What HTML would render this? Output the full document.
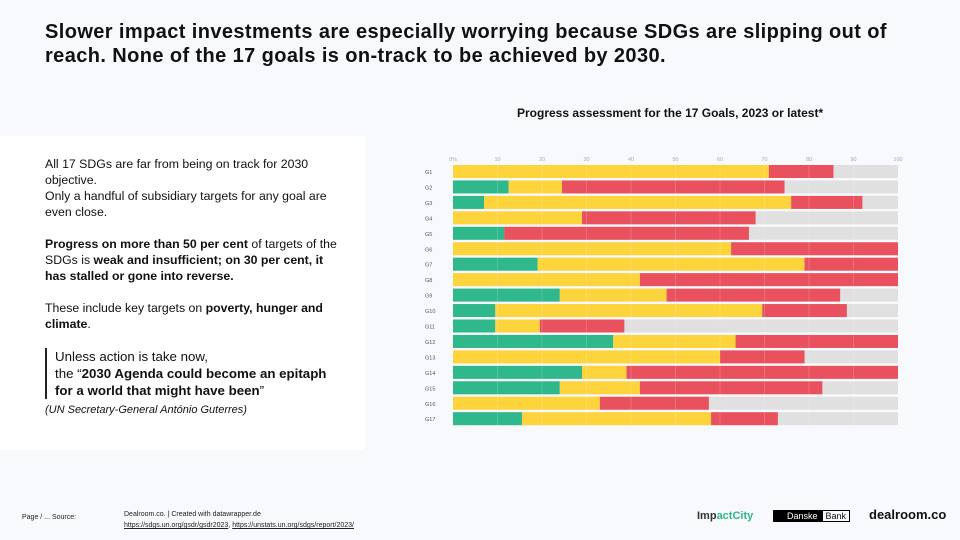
<!DOCTYPE html>
<html><head><meta charset="utf-8">
<style>
body{margin:0;width:960px;height:540px;background:#f8f9fc;font-family:"Liberation Sans",sans-serif;position:relative;overflow:hidden;color:#111}
.title{position:absolute;left:45px;top:20px;font-size:20px;font-weight:bold;line-height:24px;letter-spacing:0.4px;width:900px;white-space:nowrap}
.panel{position:absolute;left:0;top:136px;width:365px;height:314px;background:#fff}
.txt{position:absolute;left:45px;top:156px;width:300px;font-size:12.3px;line-height:16px}
.txt p{margin:0 0 16px 0}
.quote{border-left:2px solid #222;padding-left:8px;font-size:13.3px;line-height:17px;margin-bottom:3px!important}
.ctitle{position:absolute;left:517px;top:106px;font-size:12px;font-weight:bold}
.foot{position:absolute;font-size:7px;color:#222}
</style></head><body>
<div class="title">Slower impact investments are especially worrying because SDGs are slipping out of<br>reach. None of the 17 goals is on-track to be achieved by 2030.</div>
<div class="panel"></div>
<div class="txt">
<p>All 17 SDGs are far from being on track for 2030 objective.<br>Only a handful of subsidiary targets for any goal are even close.</p>
<p><b>Progress on more than 50 per cent</b> of targets of the SDGs is <b>weak and insufficient; on 30 per cent, it has stalled or gone into reverse.</b></p>
<p>These include key targets on <b>poverty, hunger and climate</b>.</p>
<p class="quote">Unless action is take now,<br>the “<b>2030 Agenda could become an epitaph for a world that might have been</b>”</p>
<p style="font-style:italic;font-size:11px">(UN Secretary-General António Guterres)</p>
</div>
<div class="ctitle">Progress assessment for the 17 Goals, 2023 or latest*</div>
<svg id="chart" width="960" height="540" style="position:absolute;left:0;top:0"></svg>
<div class="foot" style="left:22px;top:514px">Page / ... Source:</div>
<div class="foot" style="left:124px;top:509px;line-height:11px">Dealroom.co. | Created with datawrapper.de<br><u>https://sdgs.un.org/gsdr/gsdr2023</u>, <u>https://unstats.un.org/sdgs/report/2023/</u></div>
<div style="position:absolute;left:697px;top:510px;font-size:11px;font-weight:bold;color:#333">Imp<span style="color:#2fb88c">actCity</span></div>
<div style="position:absolute;left:773px;top:510px;font-size:9px;display:flex"><span style="background:#000;color:#fff;padding:1px 4px 1px 14px">Danske</span><span style="border:1px solid #000;padding:0 3px">Bank</span></div>
<div style="position:absolute;left:869px;top:507px;font-size:13px;font-weight:bold">dealroom.co</div>
<script>
const goals=["G1","G2","G3","G4","G5","G6","G7","G8","G9","G10","G11","G12","G13","G14","G15","G16","G17"];
const greenVals=[0,12.5,7,0,11.5,0,19,0,24,9.5,9.5,36,0,29,24,0,15.5];
const yellowVals=[71,12,69,29,0,62.5,60,42,24,60,10,27.5,60,10,18,33,42.5];
const redVals=[14.5,50,16,39,55,37.5,21,58,39,19,19,36.5,19,61,41,24.5,15];
const ticks=[0,10,20,30,40,50,60,70,80,90,100];
const colors=["#2fb88c","#fdd43b","#e8515d"];
const svg=document.getElementById('chart');const NS="http://www.w3.org/2000/svg";
const x0=453,x1=898,y0=165,step=15.45,bh=13;
const xs=v=>x0+(x1-x0)*v/100;
const ys=i=>y0+i*step;
function mk(t,a){const e=document.createElementNS(NS,t);for(const k in a)e.setAttribute(k,a[k]);svg.appendChild(e);return e;}
ticks.forEach(t=>{const e=mk('text',{x:xs(t),y:161,'font-size':5.5,fill:'#aaa','text-anchor':'middle'});e.textContent=t===0?'0%':t;

});
goals.forEach((g,i)=>{
 const bg=mk('rect',{x:x0,y:ys(i),width:x1-x0,height:bh,fill:'#e0e0e0'});
 
 
 let acc=0;[greenVals[i],yellowVals[i],redVals[i]].forEach((v,k)=>{
  if(v>0){const r=mk('rect',{x:xs(acc),y:ys(i),width:Math.min(xs(acc+v),x1)-xs(acc),height:bh,fill:colors[k]});
  
  }
  acc+=v;});
 const l=mk('text',{x:425,y:ys(i)+9,'font-size':5.5,fill:'#555'});l.textContent=g;
 
 
});
ticks.slice(1,-1).forEach(t=>{const ln=mk('line',{x1:xs(t),x2:xs(t),y1:ys(0),y2:ys(16)+bh,stroke:'#fff','stroke-opacity':0.3,'stroke-width':0.6});

});
</script>
</body></html>
